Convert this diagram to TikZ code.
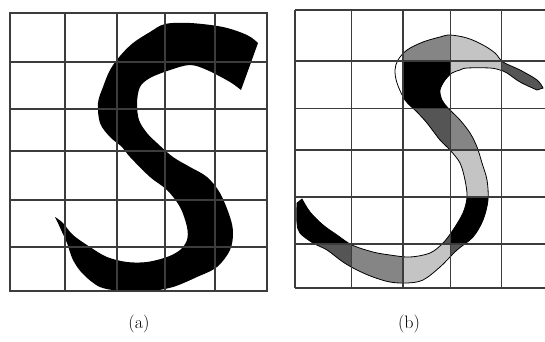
\documentclass[tikz,border=0pt]{standalone}
\definecolor{gridc}{HTML}{3C3C3C}
\definecolor{sdark}{HTML}{555555}
\definecolor{smed}{HTML}{858585}
\definecolor{slight}{HTML}{C4C4C4}
\tikzset{
  gridline/.style={draw=gridc, line width=1.3pt},
  sfill/.style={fill=black},
  soutline/.style={draw=black, line width=0.8pt},
  caption/.style={font=\fontsize{18}{20}\selectfont, inner sep=0pt}
}
\begin{document}
\begin{tikzpicture}[x=1pt,y=-1pt]
\useasboundingbox (0,0) rectangle (545,341);
% ---------- (a) ----------
\fill[sfill] plot[smooth, tension=0.55] coordinates {
 (258,43) (247,35) (223,27) (190,23) (165,24) (150,32) (133,43) (120,56) (110,70)
 (103,87) (98,103) (100,123) (110,137) (122,147) (130,157) (150,177) (167,190)
 (180,207) (187,227) (187,240) (180,250) (167,257) (147,262) (127,262) (107,257)
 (90,247) (73,235) (63,223) (55,217)}
 -- plot[smooth, tension=0.55] coordinates {
 (58,223) (62,232) (67,243) (73,260) (83,274) (100,287) (123,291) (150,291) (173,287)
 (197,277) (217,267) (230,250) (233,233) (230,217) (220,193) (207,177) (190,167)
 (173,157) (157,143) (147,133) (139,120) (137,103) (140,87) (150,78) (170,70)
 (190,65) (207,70) (230,82) (241,90)} -- cycle;
\foreach \x in {65,117,165,215} \draw[gridline] (\x,13) -- (\x,291);
\foreach \y in {62,109,151,200,247} \draw[gridline] (10,\y) -- (267,\y);
\draw[gridline] (10,13) rectangle (267,291);
% ---------- (b) ----------
\def\spath{plot[smooth, tension=0.55] coordinates {
 (543,88) (537,80) (520,70) (503,62) (495,53) (483,45) (467,38) (450,35) (440,37)
 (423,42) (407,50) (398,60) (395,70) (397,83) (405,100) (417,112) (427,123) (440,140)
 (450,150) (460,163) (465,180) (467,197) (463,213) (453,230) (443,243) (430,253)
 (410,257) (390,255) (373,252) (352,245) (337,235) (323,225) (310,212) (302,199)}
 -- plot[smooth, tension=0.55] coordinates {
 (297,203) (297,223) (300,233) (313,243) (327,250) (343,262) (357,270) (373,277)
 (390,282) (407,283) (423,280) (440,267) (457,250) (473,237) (483,220) (488,200)
 (487,180) (482,163) (477,147) (470,133) (460,120) (448,108) (442,100) (440,90)
 (445,80) (452,73) (460,70) (467,68) (490,68) (500,70) (507,73) (520,82) (537,90)}
 -- cycle}
\begin{scope}
\clip \spath;
\fill[smed] (403,10) rectangle (450.5,61);
\fill[slight] (450.5,10) rectangle (545,61);
\fill[black] (403,61) rectangle (450.5,108.5);
\fill[slight] (450.5,61) rectangle (501.5,108.5);
\fill[sdark] (501.5,61) rectangle (545,108.5);
\fill[sdark] (403,108.5) rectangle (450.5,150);
\fill[smed] (450.5,108.5) rectangle (501.5,150);
\fill[slight] (403,150) rectangle (501.5,197);
\fill[black] (295,197) rectangle (403,244);
\fill[sdark] (403,197) rectangle (450.5,244);
\fill[black] (450.5,197) rectangle (501.5,244);
\fill[sdark] (295,244) rectangle (351.5,288);
\fill[smed] (351.5,244) rectangle (403,288);
\fill[slight] (403,244) rectangle (450.5,288);
\fill[sdark] (450.5,244) rectangle (501.5,288);
\end{scope}
\draw[soutline] \spath;
\foreach \x in {351.5,403,450.5,501.5} \draw[gridline] (\x,10) -- (\x,288);
\foreach \y in {61,108.5,150,197,244} \draw[gridline] (295,\y) -- (545,\y);
\draw[gridline] (295,10) -- (545,10);
\draw[gridline] (295,288) -- (545,288);
\draw[gridline] (295,10) -- (295,288);
% ---------- captions ----------
\node[caption] (capa) at (139,324) {(a)};
\node[caption] (capb) at (409,324) {(b)};
\end{tikzpicture}
\end{document}
